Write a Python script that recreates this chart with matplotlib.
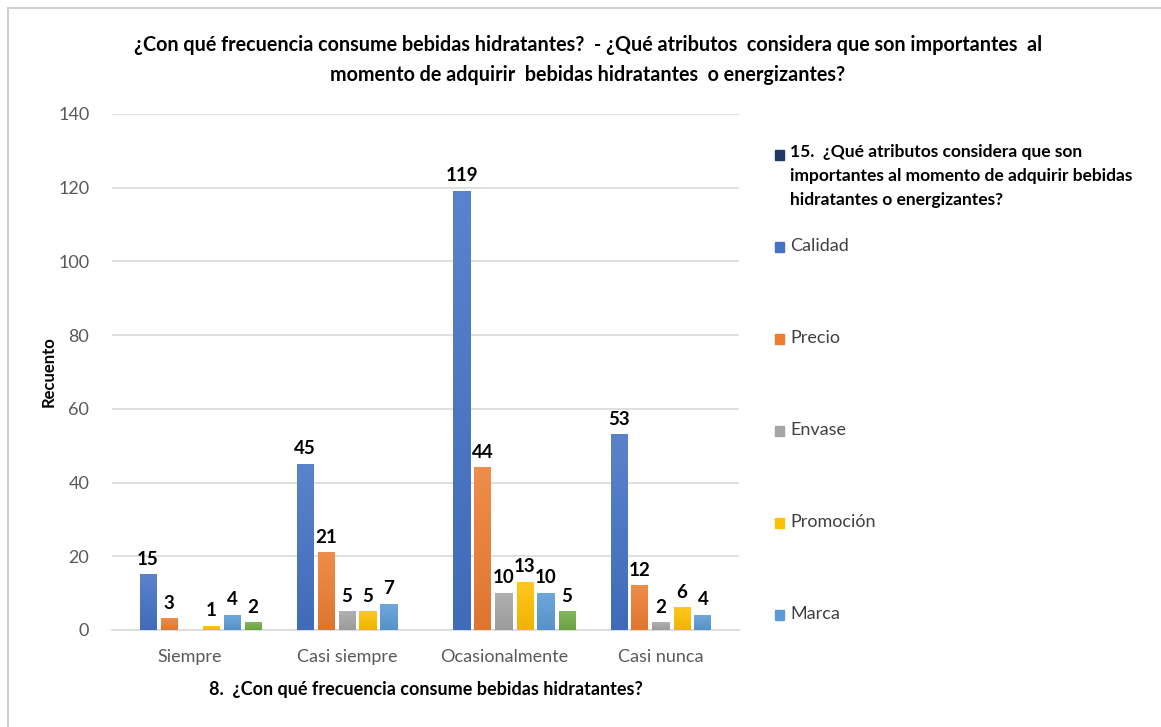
import matplotlib.pyplot as plt
import numpy as np
from matplotlib.colors import LinearSegmentedColormap, to_rgb
from matplotlib.patches import Rectangle

# counts per frequency group, one list per attribute (None = no responses)
categories = ['Siempre', 'Casi siempre', 'Ocasionalmente', 'Casi nunca']
series_names = ['15.  ¿Qué atributos considera que son\nimportantes al momento de adquirir bebidas\nhidratantes o energizantes?',
                'Calidad', 'Precio', 'Envase', 'Promoción', 'Marca', 'Otro']
header = [None, None, None, None]
calidad = [15, 45, 119, 53]
precio = [3, 21, 44, 12]
envase = [None, 5, 10, 2]
promocion = [1, 5, 13, 6]
marca = [4, 7, 10, 4]
otro = [2, None, 5, None]
colors = ['#203864', '#4472C4', '#ED7D31', '#A5A5A5', '#FFC000', '#5B9BD5', '#70AD47']

all_series = [header, calidad, precio, envase, promocion, marca, otro]

FONT = ['Lato', 'DejaVu Sans']
W, H = 1161, 727
fig = plt.figure(figsize=(W / 100, H / 100), dpi=100)
ax = fig.add_axes([111.5 / W, 97 / H, 628 / W, 516 / H])


def shade(color, f):
    c = np.array(to_rgb(color))
    return tuple(c + (1 - c) * f) if f > 0 else tuple(c * (1 + f))


x = np.arange(len(categories))
slot = 21 / 157
width = 17 / 157
grad = np.linspace(0, 1, 64).reshape(-1, 1)
for i, (vals, color) in enumerate(zip(all_series, colors)):
    heights = np.array([np.nan if v is None else v for v in vals], dtype=float)
    pos = x + (i - 3) * slot
    ax.bar(pos, heights, width, color=color, zorder=3)
    # Office-style vertical gradient on each bar, lighter at the top
    cmap = LinearSegmentedColormap.from_list('g%d' % i, [shade(color, -0.06), shade(color, 0.12)])
    for px, v in zip(pos, vals):
        if v is None:
            continue
        ax.imshow(grad, extent=[px - width / 2, px + width / 2, 0, v], origin='lower',
                  aspect='auto', cmap=cmap, zorder=3.5, interpolation='bilinear')
        ax.annotate(str(v), (px, v), xytext=(0, 5), textcoords='offset points',
                    ha='center', va='bottom', fontsize=13.5, fontweight='bold',
                    family=FONT, color='black')

ax.set_xlim(-0.5, 3.5)
ax.set_ylim(0, 140)
ax.set_yticks(np.arange(0, 141, 20))
ax.set_xticks(x)
ax.set_xticklabels(categories)
ax.yaxis.grid(True, color='#D9D9D9', linewidth=1.2, zorder=0)
for s in ['top', 'right', 'left']:
    ax.spines[s].set_visible(False)
ax.spines['bottom'].set_color('#D9D9D9')
ax.spines['bottom'].set_linewidth(1.2)
ax.tick_params(length=0, labelsize=13, labelcolor='#595959', pad=16)
ax.tick_params(axis='x', pad=14)
for lab in ax.get_xticklabels() + ax.get_yticklabels():
    lab.set_family(FONT)

ax.set_ylabel('Recuento', fontsize=12, fontweight='bold', family=FONT, labelpad=1)
ax.set_xlabel('8.  ¿Con qué frecuencia consume bebidas hidratantes?', fontsize=13,
              fontweight='bold', family=FONT, labelpad=11)

fig.text(588 / W, 1 - 45 / H,
         '¿Con qué frecuencia consume bebidas hidratantes?  - ¿Qué atributos  considera que son importantes  al',
         ha='center', va='center', fontsize=14.2, fontweight='bold', family=FONT)
fig.text(588 / W, 1 - 75 / H, 'momento de adquirir  bebidas hidratantes  o energizantes?',
         ha='center', va='center', fontsize=14.2, fontweight='bold', family=FONT)

# legend drawn by hand; only the first six entries fit in the box
legend_y = [155, 247, 339, 431, 523, 615]
for name, color, ly in zip(series_names[:6], colors[:6], legend_y):
    fig.patches.append(Rectangle((775 / W, 1 - (ly + 5) / H), 9 / W, 10 / H,
                                 transform=fig.transFigure, color=color))
    first = name.startswith('15.')
    fig.text(790 / W, 1 - (ly - 1) / H if not first else 1 - (ly - 11) / H, name,
             ha='left', va='top' if first else 'center',
             fontsize=12.5 if first else 13, fontweight='bold' if first else 'normal',
             color='black' if first else '#404040', linespacing=1.6, family=FONT)

# outer chart frame
fig.patches.append(Rectangle((8 / W, -0.1), 1.2, 1 - 8 / H + 0.1, transform=fig.transFigure,
                             fill=False, edgecolor='#D0D0D0', linewidth=1.5))

fig.savefig('out.png', dpi=100)
